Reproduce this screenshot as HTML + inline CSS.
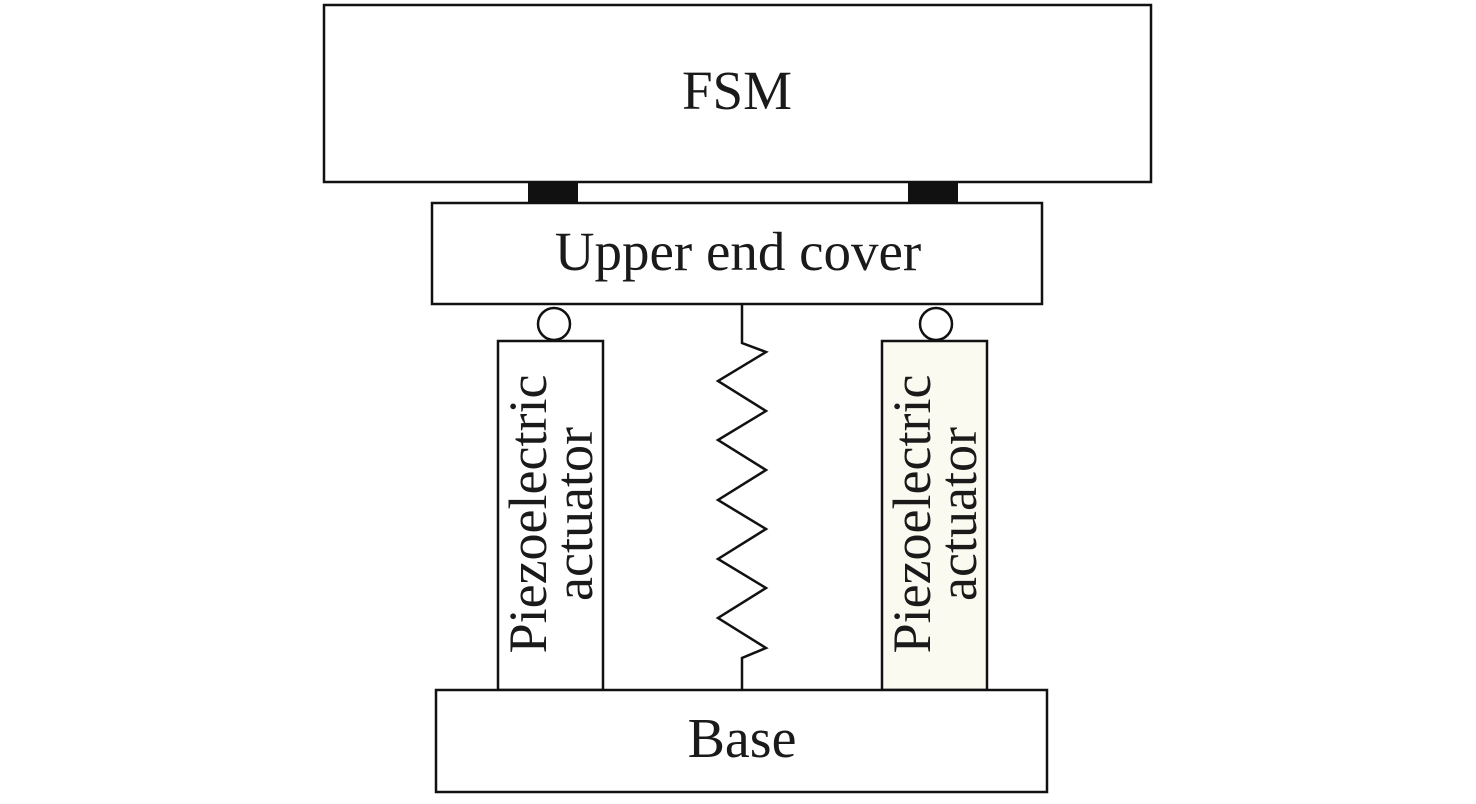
<!DOCTYPE html>
<html><head><meta charset="utf-8"><style>
html,body{margin:0;padding:0;background:#fff;}
</style></head><body>
<svg width="1476" height="799" viewBox="0 0 1476 799" xmlns="http://www.w3.org/2000/svg" font-family="'Liberation Serif', serif" fill="none" stroke="#111" stroke-width="2.5">
<rect x="324" y="5" width="827" height="177" fill="#fff"/>
<text x="737" y="109" font-size="55" fill="#1a1a1a" stroke="none" text-anchor="middle">FSM</text>
<rect x="528" y="182" width="50" height="21" fill="#111" stroke="none"/>
<rect x="908" y="182" width="50" height="21" fill="#111" stroke="none"/>
<rect x="432" y="203" width="610" height="101" fill="#fff"/>
<text x="738" y="270" font-size="55" fill="#1a1a1a" stroke="none" text-anchor="middle">Upper end cover</text>
<circle cx="554" cy="324" r="16"/>
<circle cx="936" cy="324" r="16"/>
<rect x="498" y="341" width="105" height="349" fill="#fff"/>
<rect x="882" y="341" width="105" height="349" fill="#fafaf0"/>
<g font-size="54" fill="#1a1a1a" stroke="none" text-anchor="middle">
<text transform="translate(550,514) rotate(-90)"><tspan x="0" y="-4">Piezoelectric</tspan><tspan x="0" y="42">actuator</tspan></text>
<text transform="translate(934,514) rotate(-90)"><tspan x="0" y="-4">Piezoelectric</tspan><tspan x="0" y="42">actuator</tspan></text>
</g>
<polyline points="742,304 742,343 766,352 718,381 766,411 718,440 766,470 718,500 766,529 718,559 766,588 718,618 766,648 742,658 742,690"/>
<rect x="436" y="690" width="611" height="102" fill="#fff"/>
<text x="742" y="757" font-size="56" fill="#1a1a1a" stroke="none" text-anchor="middle">Base</text>
</svg>
</body></html>
